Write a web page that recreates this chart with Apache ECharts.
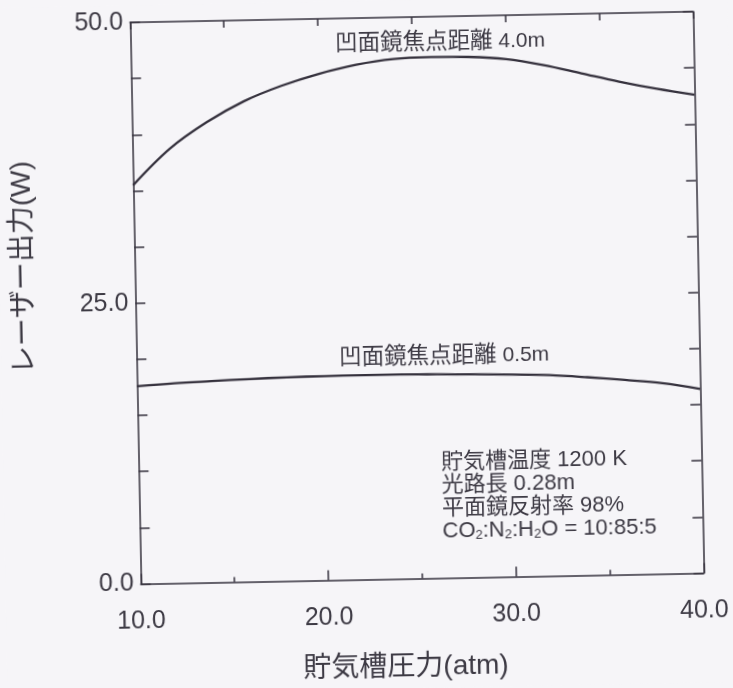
<!DOCTYPE html>
<html>
<head>
<meta charset="utf-8">
<script src="https://cdn.jsdelivr.net/npm/echarts@6/dist/echarts.min.js"></script>
<style>
  html, body { margin: 0; padding: 0; background: #f6f5f8; overflow: hidden; }
  /* the printed figure sits slightly tilted on the page */
  #chart { width: 733px; height: 688px; transform: rotate(-1.1deg); transform-origin: 416.75px 297.75px; }
</style>
</head>
<body>
<div id="chart"></div>
<script>
// 貯気槽圧力 (atm)
const pressure = [10, 12, 14, 16, 18, 20, 22, 24, 26, 28, 30, 32, 34, 36, 38, 40];
// レーザー出力 (W), 凹面鏡焦点距離 4.0m
const power40 = [35.5, 38.7, 41.0, 42.8, 44.1, 45.1, 45.85, 46.3, 46.4, 46.35, 46.1, 45.5, 44.7, 43.9, 43.2, 42.6];
// レーザー出力 (W), 凹面鏡焦点距離 0.5m
const power05 = [17.6, 17.8, 17.93, 18.05, 18.14, 18.18, 18.2, 18.2, 18.15, 18.08, 18.0, 17.88, 17.63, 17.33, 16.98, 16.4];

const xTickLabels = [10, 20, 30, 40];
const yTickLabels = [0, 25, 50];

const seriesNames = ['凹面鏡焦点距離 4.0m', '凹面鏡焦点距離 0.5m'];
const conditions = ['貯気槽温度 1200 K', '光路長 0.28m', '平面鏡反射率 98%', 'CO{s|2}:N{s|2}:H{s|2}O = 10:85:5'];
const xName = '貯気槽圧力(atm)';
const yName = 'レーザー出力(W)';

const INK = '#35313d';
const TEXT = '#3d3a44';
const FONT = "'Liberation Sans', 'Noto Sans CJK JP', sans-serif";

const chart = echarts.init(document.getElementById('chart'));

const lineAxis = { show: true, onZero: false, lineStyle: { color: INK, width: 1.5 } };
const tickStyle = { color: INK, width: 1.5 };

function pairs(ys) { return pressure.map((x, i) => [x, ys[i]]); }

// curve caption: kanji part set a little larger than the latin part
function nameMark(text, coord) {
  const cut = text.indexOf(' ');
  return {
    symbol: 'circle', symbolSize: 0, silent: true,
    data: [{ coord: coord, value: 0 }],
    label: {
      show: true, position: 'inside', color: TEXT,
      formatter: '{k|' + text.slice(0, cut) + '}{l|' + text.slice(cut) + '}',
      rich: {
        k: { fontFamily: FONT, fontSize: 22.5, color: TEXT },
        l: { fontFamily: FONT, fontSize: 21, color: TEXT }
      }
    }
  };
}

chart.setOption({
  backgroundColor: '#f6f5f8',
  animation: false,
  grid: { left: 135.3, right: 34.7, top: 17, bottom: 109.5 },
  xAxis: [
    {
      type: 'value', position: 'bottom', min: 10, max: 40, interval: 10,
      axisLine: lineAxis,
      axisTick: { show: true, inside: true, length: 10, lineStyle: tickStyle },
      minorTick: { show: true, splitNumber: 2, length: 5, lineStyle: tickStyle },
      splitLine: { show: false }, minorSplitLine: { show: false },
      axisLabel: {
        margin: 25, color: TEXT, fontFamily: FONT, fontSize: 25,
        formatter: v => xTickLabels.includes(v) ? v.toFixed(1) : ''
      }
    },
    {
      type: 'value', position: 'top', min: 10, max: 40, interval: 5,
      axisLine: lineAxis,
      axisTick: { show: true, inside: true, length: 7, lineStyle: tickStyle },
      splitLine: { show: false }, axisLabel: { show: false }
    }
  ],
  yAxis: [
    {
      type: 'value', position: 'left', min: 0, max: 50, interval: 25,
      axisLine: lineAxis,
      axisTick: { show: true, inside: true, length: 10, lineStyle: tickStyle },
      minorTick: { show: true, splitNumber: 5, length: 10, lineStyle: tickStyle },
      splitLine: { show: false }, minorSplitLine: { show: false },
      axisLabel: {
        margin: 7, color: TEXT, fontFamily: FONT, fontSize: 25,
        formatter: v => yTickLabels.includes(v) ? v.toFixed(1) : ''
      }
    },
    {
      type: 'value', position: 'right', min: 0, max: 50, interval: 5,
      axisLine: lineAxis,
      axisTick: { show: true, inside: true, length: 10, lineStyle: tickStyle },
      splitLine: { show: false }, axisLabel: { show: false }
    }
  ],
  series: [
    {
      name: seriesNames[0], type: 'line', xAxisIndex: 0, yAxisIndex: 0,
      data: pairs(power40), smooth: 0.35, showSymbol: false, symbol: 'none',
      lineStyle: { color: INK, width: 2.3 },
      markPoint: nameMark(seriesNames[0], [26.5, 47.7])
    },
    {
      name: seriesNames[1], type: 'line', xAxisIndex: 0, yAxisIndex: 0,
      data: pairs(power05), smooth: 0.35, showSymbol: false, symbol: 'none',
      lineStyle: { color: INK, width: 2.3 },
      markPoint: nameMark(seriesNames[1], [26.4, 19.7])
    }
  ],
  graphic: [
    {
      type: 'text', x: 399, y: 667, silent: true,
      style: { text: xName, fill: TEXT, font: "28px " + FONT, align: 'center', verticalAlign: 'middle' }
    },
    {
      type: 'text', x: 24.5, y: 260, rotation: Math.PI / 2, silent: true,
      style: { text: yName, fill: TEXT, font: "28px " + FONT, align: 'center', verticalAlign: 'middle' }
    },
    {
      type: 'text', x: 438, y: 451, silent: true,
      style: {
        text: conditions.join('\n'), fill: TEXT, font: "22px " + FONT,
        lineHeight: 23, align: 'left', verticalAlign: 'top',
        rich: { s: { fontSize: 13, fontFamily: FONT, fill: TEXT, lineHeight: 10, verticalAlign: 'bottom' } }
      }
    }
  ]
});
</script>
</body>
</html>
